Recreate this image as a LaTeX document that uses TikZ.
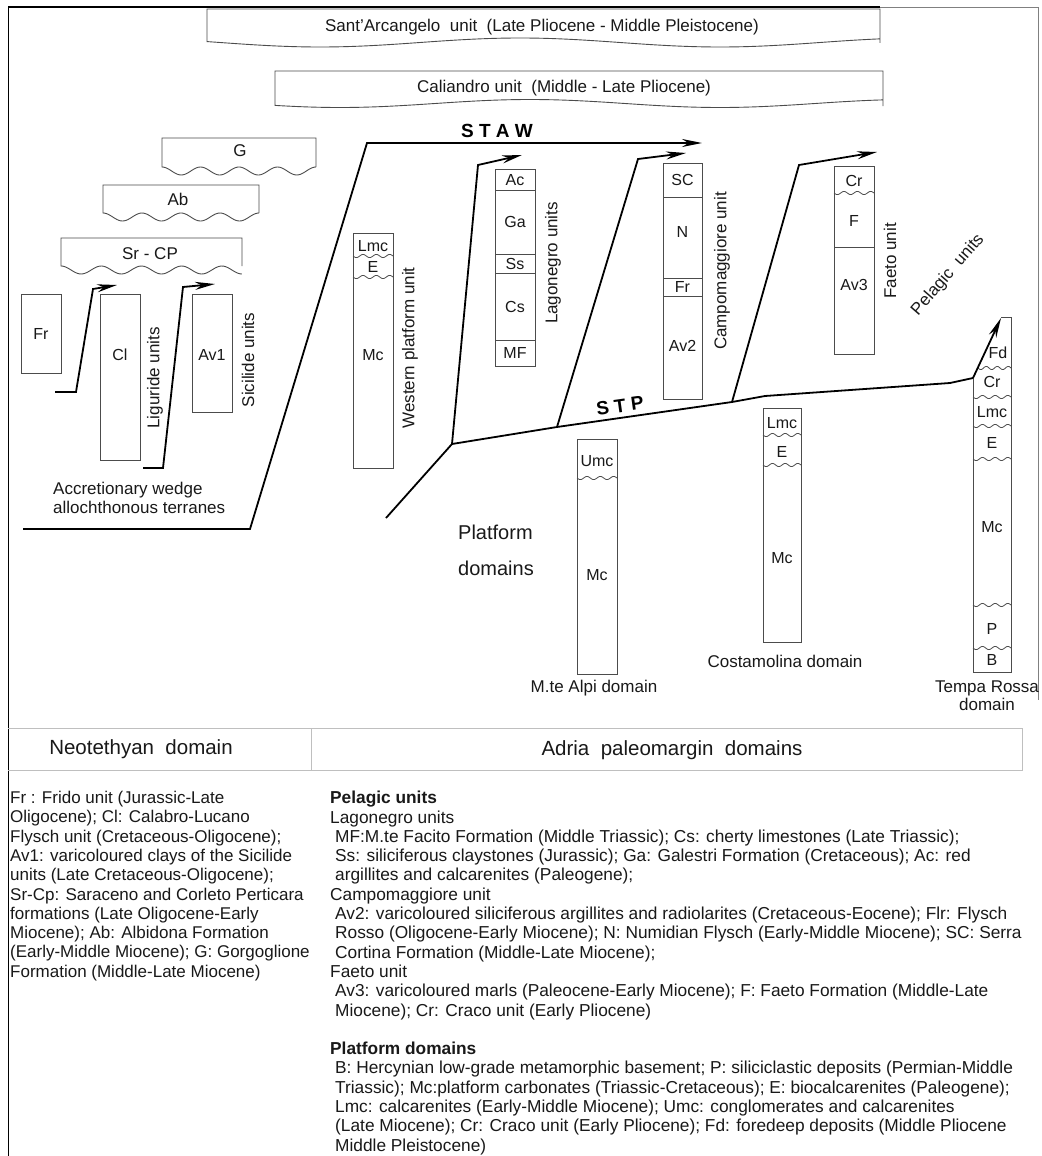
\documentclass[tikz,border=0pt]{standalone}
\usepackage{fontspec}
\setmainfont{Liberation Sans}
\usetikzlibrary{arrows.meta}
\newcommand\uncf[3]{\draw[unitline] plot[domain=0:1,samples=40,smooth,variable=\t] ({#1+\t*(#2-#1)},{#3+1.6*sin(\t*1080)});}
\newcommand\scallopbox[6]{\draw[unitbox] (#2,#4) -- (#2,#3) -- (#1,#3) -- (#1,#4) -- plot[domain=0:1,samples=90,smooth,variable=\t] ({#1+\t*(#2-#1)},{#4+#6*(1-cos(\t*360*#5))/2});}
\begin{document}
\begin{tikzpicture}[x=1pt,y=-1pt,
  unitbox/.style={draw=black!70,line width=0.9pt},
  unitline/.style={draw=black!70,line width=0.8pt},
  thrust/.style={line width=1.8pt,line join=miter,line cap=butt},
  tip/.style={-{Stealth[length=20pt,width=8pt]}},
  lab/.style={inner sep=0pt,text=black!90,font=\fontsize{17}{19}\selectfont},
  cell/.style={inner sep=0pt,text=black!90,font=\fontsize{16}{18}\selectfont},
  big/.style={inner sep=0pt,text=black!90,font=\fontsize{20}{36}\selectfont},
  bold/.style={inner sep=0pt,font=\bfseries\fontsize{19}{22}\selectfont},
  tablab/.style={inner sep=0pt,text=black!90,font=\fontsize{20.5}{22}\selectfont},
  legend/.style={inner sep=0pt,anchor=north west,align=left,text=black!90}
]
\useasboundingbox (0,0) rectangle (1041,1156);
\fill[white] (0,0) rectangle (1041,1156);
% frame
\draw[line width=0.9pt] (8,7) -- (8,1156);
\draw[line width=1.6pt] (8,7) -- (880,7);
\draw[black!50,line width=0.8pt] (880,7) -- (1038,7) -- (1038,700);

% top cover units
\draw[unitbox] (880,43) -- (880,9) -- (207,9) -- plot[domain=207:880,samples=120,smooth,variable=\x] (\x,{42.5+4.5*cos((\x-320)/400*360)}) -- cycle;
\node[lab] (sa) at (542,27) {Sant'Arcangelo\ \ unit\ \ (Late Pliocene - Middle Pleistocene)};
\draw[unitbox] (883,106) -- (883,71) -- (275,71) -- plot[domain=275:883,samples=120,smooth,variable=\x] (\x,{103.5+4*cos((\x-340)/380*360)}) -- cycle;
\node[lab] (ca) at (564,88) {Caliandro unit\ \ (Middle - Late Pliocene)};

% scalloped units
\scallopbox{162}{316}{138}{167}{4}{8}
\node[lab] (g) at (240,151) {G};
\scallopbox{103}{259}{185}{213}{4}{8}
\node[lab] (ab) at (178,199) {Ab};
\scallopbox{61}{242}{238}{266}{4.5}{8}
\node[lab] (srcp) at (150,254) {Sr - CP};

% Liguride / Sicilide columns
\draw[unitbox] (21,294) rectangle (61,373);
\node[cell] (fr) at (41,334) {Fr};
\draw[unitbox] (100,294) rectangle (140,460);
\node[cell] (cl) at (120,355) {Cl};
\draw[unitbox] (192,294) rectangle (232,412);
\node[cell] (av1) at (212,355) {Av1};
\node[lab,rotate=90] (lig) at (155,378) {Liguride units};
\node[lab,rotate=90] (sic) at (248,360) {Sicilide units};

% Western platform unit
\draw[unitbox] (353,233) rectangle (393,468);
\uncf{353}{393}{256}
\uncf{353}{393}{277}
\node[cell] (wlmc) at (373,246) {Lmc};
\node[cell] (we) at (373,267) {E};
\node[cell] (wmc) at (373,355) {Mc};
\node[lab,rotate=90] (wpu) at (410,348) {Western platform unit};

% Lagonegro
\draw[unitbox] (495,169) rectangle (535,366);
\foreach \yy in {190,254,273,340} {\draw[unitline] (495,\yy) -- (535,\yy);}
\node[cell] (lac) at (515,180) {Ac};
\node[cell] (lga) at (515,222) {Ga};
\node[cell] (lss) at (515,264) {Ss};
\node[cell] (lcs) at (515,307) {Cs};
\node[cell] (lmf) at (515,353) {MF};
\node[lab,rotate=90] (lagu) at (553,263) {Lagonegro units};

% Campomaggiore
\draw[unitbox] (663,163) rectangle (702,399);
\foreach \yy in {197,278,296} {\draw[unitline] (663,\yy) -- (702,\yy);}
\node[cell] (csc) at (682.5,180) {SC};
\node[cell] (cn) at (682.5,232) {N};
\node[cell] (cfr) at (682.5,287) {Fr};
\node[cell] (cav) at (682.5,346) {Av2};
\node[lab,rotate=90] (campu) at (722,271) {Campomaggiore unit};

% Faeto
\draw[unitbox] (834,166) rectangle (874,354);
\uncf{834}{874}{193}
\draw[unitline] (834,247) -- (874,247);
\node[cell] (fcr) at (854,181) {Cr};
\node[cell] (ff) at (854,221) {F};
\node[cell] (fav) at (854,285) {Av3};
\node[lab,rotate=90] (faetou) at (890,261) {Faeto unit};
\node[lab,rotate=49] (pelu) at (948,275) {Pelagic\ \ units};

% M.te Alpi
\draw[unitbox] (577,439) rectangle (617,674);
\uncf{577}{617}{478}
\node[cell] (aumc) at (597,461) {Umc};
\node[cell] (amc) at (597,575) {Mc};
\node[lab] (alpi) at (594,688) {M.te Alpi domain};

% Costamolina
\draw[unitbox] (763,408) rectangle (801,642);
\uncf{763}{801}{435}
\uncf{763}{801}{465}
\node[cell] (klmc) at (782,423) {Lmc};
\node[cell] (ke) at (782,452) {E};
\node[cell] (kmc) at (782,558) {Mc};
\node[lab] (costa) at (785,661) {Costamolina domain};

% Tempa Rossa
\draw[unitbox] (973,378) -- (973,672) -- (1011,672) -- (1011,317) -- (1001,317);
\uncf{978}{1011}{368}
\uncf{973}{1011}{397}
\uncf{973}{1011}{426}
\uncf{973}{1011}{459}
\uncf{973}{1011}{605}
\uncf{973}{1011}{648}
\node[cell] (tfd) at (998,353) {Fd};
\node[cell] (tcr) at (992,382) {Cr};
\node[cell] (tlmc) at (992,412) {Lmc};
\node[cell] (te) at (992,443) {E};
\node[cell] (tmc) at (992,527) {Mc};
\node[cell] (tp) at (992,629) {P};
\node[cell] (tb) at (992,660) {B};
\node[lab,align=center,font=\fontsize{17}{18}\selectfont] (tempa) at (987,696) {Tempa Rossa\\domain};

% thrust coordinates
\coordinate (t1a) at (55,392); \coordinate (t1b) at (76,392); \coordinate (t1c) at (93,289); \coordinate (t1d) at (117,285);
\coordinate (t2a) at (143,468); \coordinate (t2b) at (163,468); \coordinate (t2c) at (183,287); \coordinate (t2d) at (215,284);
\coordinate (s1) at (23,529); \coordinate (s2) at (250,529); \coordinate (s3) at (367,143); \coordinate (s4) at (702,143);
\coordinate (j) at (452,444); \coordinate (jl) at (386,518); \coordinate (l1) at (478,165); \coordinate (l2) at (522,155);
\coordinate (c0) at (557,427); \coordinate (c1) at (638,159); \coordinate (c2) at (686,153);
\coordinate (f0) at (732,402); \coordinate (f1) at (799,165); \coordinate (f2) at (877,152);
\coordinate (p1) at (765,396); \coordinate (p2) at (950,383); \coordinate (p3) at (973,378); \coordinate (p4) at (1001,318);

\draw[thrust,tip] (t1a) -- (t1b) -- (t1c) -- (t1d);
\draw[thrust,tip] (t2a) -- (t2b) -- (t2c) -- (t2d);
\draw[thrust,tip] (s1) -- (s2) -- (s3) -- (s4);
\draw[thrust,tip] (j) -- (l1) -- (l2);
\draw[thrust,tip] (c0) -- (c1) -- (c2);
\draw[thrust,tip] (f0) -- (f1) -- (f2);
\draw[thrust] (jl) -- (j) -- (c0) -- (f0) -- (p1) -- (p2) -- (p3);
\draw[thrust,tip] (p3) -- (p4);

\node[bold] (staw) at (497,131) {S T A W};
\node[bold,rotate=8] (stp) at (620,406) {S T P};

\node[lab,align=left,anchor=west] (accr) at (53,497.5) {Accretionary wedge\\allochthonous terranes};
\node[big,align=left,anchor=west] (platd) at (458,550) {Platform\\domains};

% domain table
\draw[black!25,line width=1pt] (8,728) -- (1022,728) -- (1022,770) -- (8,770);
\draw[black!25,line width=1pt] (311,728) -- (311,770);
\node[tablab] (neo) at (141,749) {Neotethyan\ \ domain};
\node[tablab] (adria) at (672,750) {Adria\ \ paleomargin\ \ domains};

% legends
\node[legend,font=\fontsize{17}{19.3}\selectfont] (legl) at (10,791) {Fr : Frido unit (Jurassic-Late\\
Oligocene); Cl: Calabro-Lucano\\
Flysch unit (Cretaceous-Oligocene);\\
Av1: varicoloured clays of the Sicilide\\
units (Late Cretaceous-Oligocene);\\
Sr-Cp: Saraceno and Corleto Perticara\\
formations (Late Oligocene-Early\\
Miocene); Ab: Albidona Formation\\
(Early-Middle Miocene); G: Gorgoglione\\
Formation (Middle-Late Miocene)};

\node[legend,font=\fontsize{17.3}{19.3}\selectfont] (legr) at (330,791) {\textbf{Pelagic units}\\
Lagonegro units\\
\hspace*{5pt}MF:M.te Facito Formation (Middle Triassic); Cs: cherty limestones (Late Triassic);\\
\hspace*{5pt}Ss: siliciferous claystones (Jurassic); Ga: Galestri Formation (Cretaceous); Ac: red\\
\hspace*{5pt}argillites and calcarenites (Paleogene);\\
Campomaggiore unit\\
\hspace*{5pt}Av2: varicoloured siliciferous argillites and radiolarites (Cretaceous-Eocene); Flr: Flysch\\
\hspace*{5pt}Rosso (Oligocene-Early Miocene); N: Numidian Flysch (Early-Middle Miocene); SC: Serra\\
\hspace*{5pt}Cortina Formation (Middle-Late Miocene);\\
Faeto unit\\
\hspace*{5pt}Av3: varicoloured marls (Paleocene-Early Miocene); F: Faeto Formation (Middle-Late\\
\hspace*{5pt}Miocene); Cr: Craco unit (Early Pliocene)\\[19.3pt]
\textbf{Platform domains}\\
\hspace*{5pt}B: Hercynian low-grade metamorphic basement; P: siliciclastic deposits (Permian-Middle\\
\hspace*{5pt}Triassic); Mc:platform carbonates (Triassic-Cretaceous); E: biocalcarenites (Paleogene);\\
\hspace*{5pt}Lmc: calcarenites (Early-Middle Miocene); Umc: conglomerates and calcarenites\\
\hspace*{5pt}(Late Miocene); Cr: Craco unit (Early Pliocene); Fd: foredeep deposits (Middle Pliocene\\
\hspace*{5pt}Middle Pleistocene)};
\end{tikzpicture}
\end{document}
